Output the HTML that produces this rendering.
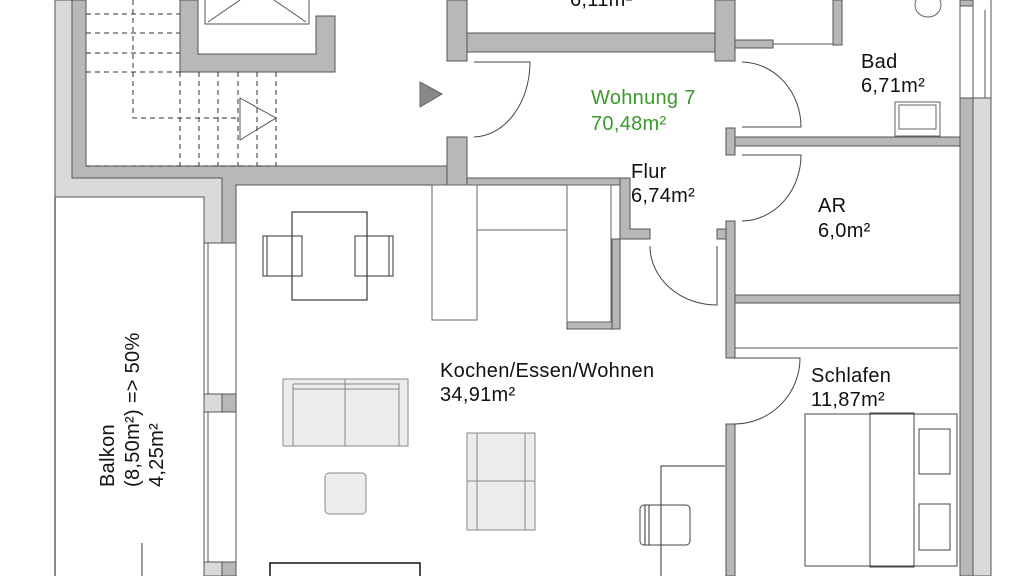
<!DOCTYPE html>
<html><head><meta charset="utf-8"><style>
html,body{margin:0;padding:0;background:#fff;}
svg{display:block}
text{font-family:"Liberation Sans",sans-serif;font-size:20px;letter-spacing:0.3px;fill:#111}
</style></head><body>
<svg width="1024" height="576" viewBox="0 0 1024 576" xmlns="http://www.w3.org/2000/svg">
<g stroke="#555" stroke-width="1">
<path d="M55,0 L72,0 L72,178 L222,178 L222,243 L204,243 L204,197 L55,197 Z" fill="#dadada"/>
<path d="M72,0 L86,0 L86,166 L467,166 L467,185 L236,185 L236,243 L222,243 L222,178 L72,178 Z" fill="#b8b8b8"/>
<path d="M180,0 L198,0 L198,54 L316,54 L316,16 L335,16 L335,72 L180,72 Z" fill="#b8b8b8"/>
<path d="M205,0 L205,24 L309,24 L309,0" fill="none"/>
<path d="M208,22 L240,0 M306,22 L274,0" fill="none"/>
<rect x="447" y="0" width="20" height="61" fill="#b8b8b8"/>
<rect x="447" y="137" width="20" height="48" fill="#b8b8b8"/>
<rect x="467" y="33" width="248" height="19" fill="#b8b8b8"/>
<rect x="715" y="0" width="20" height="61" fill="#b8b8b8"/>
<rect x="735" y="40" width="38" height="8" fill="#b8b8b8"/>
<line x1="773" y1="44" x2="833" y2="44"/>
<rect x="833" y="0" width="9" height="45" fill="#b8b8b8"/>
<rect x="960" y="0" width="13" height="6" fill="#b8b8b8"/>
<rect x="960" y="98" width="13" height="478" fill="#b8b8b8"/>
<rect x="973" y="98" width="18" height="478" fill="#dadada"/>
<path d="M960,6 L960,98 M973,0 L973,98 M985,10 L985,98 M991,0 L991,98" fill="none"/>
<rect x="726" y="128" width="9" height="27" fill="#b8b8b8"/>
<rect x="735" y="137" width="225" height="9" fill="#b8b8b8"/>
<rect x="726" y="221" width="9" height="137" fill="#b8b8b8"/>
<rect x="717" y="229" width="9" height="10" fill="#b8b8b8"/>
<rect x="735" y="295" width="225" height="8" fill="#b8b8b8"/>
<line x1="735" y1="348" x2="958" y2="348"/>
<rect x="726" y="424" width="9" height="152" fill="#b8b8b8"/>
<rect x="467" y="178" width="153" height="7" fill="#b8b8b8"/>
<path d="M620,178 L630,178 L630,229 L650,229 L650,239 L620,239 Z" fill="#b8b8b8"/>
<rect x="567" y="322" width="53" height="7" fill="#b8b8b8"/>
<rect x="612" y="239" width="8" height="90" fill="#b8b8b8"/>
</g>
<g fill="none" stroke="#333" stroke-width="1">
<g stroke-dasharray="5,4">
<path d="M86,14 H180 M86,33 H180 M86,53 H180 M86,72 H180 M133,0 V118 H240 M180,72 V166 M199,72 V166 M218,72 V166 M238,72 V166 M257,72 V166 M276,72 V166 M86,166 H276"/>
</g>
<path d="M240,98 L276,118 L240,140 Z" stroke="#555"/>
<path d="M474,62 L530,62 A57,75 0 0 1 474,137" stroke="#444"/>
<path d="M742,62 A60,65 0 0 1 801,127 L742,127" stroke="#444"/>
<path d="M742,155 L801,155 A60,66 0 0 1 742,221" stroke="#444"/>
<path d="M650,246 A67,59 0 0 0 717,305 L717,246" stroke="#444"/>
<path d="M734,358 L800,358 A66,66 0 0 1 734,424" stroke="#444"/>
<rect x="432" y="185" width="45" height="135" stroke="#666"/>
<path d="M477,230 H567" stroke="#666"/>
<rect x="567" y="185" width="44" height="137" stroke="#666"/>
<rect x="292" y="212" width="75" height="88" stroke="#111"/>
<rect x="263" y="236" width="39" height="40"/><line x1="267" y1="236" x2="267" y2="276"/>
<rect x="355" y="236" width="38" height="40"/><line x1="389" y1="236" x2="389" y2="276"/>
<path d="M204,243 V576 M208,243 V576 M236,243 V576" stroke="#555"/>
<path d="M55,197 V576" stroke="#888" stroke-width="2"/>
<path d="M142,543 V576"/>
<rect x="270" y="563" width="150" height="20" stroke="#111" stroke-width="1.5"/>
<path d="M661,576 V466 H725"/>
<rect x="640" y="505" width="50" height="40" rx="4" stroke="#444"/>
<path d="M645,505 V545 M649,505 V545"/>
<rect x="805" y="414" width="152" height="152" stroke="#444"/>
<rect x="870" y="413" width="44" height="154" stroke="#444"/>
<rect x="919" y="429" width="31" height="45" stroke="#444"/>
<rect x="919" y="504" width="31" height="46" stroke="#444"/>
<ellipse cx="928" cy="5" rx="13" ry="12" stroke="#666"/>
<rect x="895" y="102" width="45" height="34" stroke="#666"/>
<rect x="899" y="105" width="37" height="24" stroke="#666"/>
</g>
<g stroke="#888" fill="#ececec">
<rect x="283" y="379" width="125" height="67"/>
<path d="M293,384 H399 V446 M293,384 V446 M293,389 H399 M345,379 V446" fill="none"/>
<rect x="325" y="473" width="41" height="41" rx="4"/>
<rect x="467" y="433" width="68" height="97"/>
<path d="M477,433 V530 M467,481 H535 M525,433 V530" fill="none"/>
</g>
<rect x="204" y="394" width="18" height="18" fill="#dadada" stroke="#555"/>
<rect x="222" y="394" width="14" height="18" fill="#b8b8b8" stroke="#555"/>
<rect x="204" y="562" width="18" height="14" fill="#dadada" stroke="#555"/>
<rect x="222" y="562" width="14" height="14" fill="#b8b8b8" stroke="#555"/>
<path d="M420,82 L442,94 L420,107 Z" fill="#888" stroke="#666"/>
<text x="570" y="6">6,11m²</text>
<text x="591" y="104" style="fill:#3a9a2a">Wohnung 7</text>
<text x="591" y="130" style="fill:#3a9a2a">70,48m²</text>
<text x="861" y="68">Bad</text>
<text x="861" y="92">6,71m²</text>
<text x="631" y="178">Flur</text>
<text x="631" y="202">6,74m²</text>
<text x="818" y="212">AR</text>
<text x="818" y="237">6,0m²</text>
<text x="440" y="377">Kochen/Essen/Wohnen</text>
<text x="440" y="401">34,91m²</text>
<text x="811" y="382">Schlafen</text>
<text x="811" y="406">11,87m²</text>
<text transform="translate(114,487) rotate(-90)">Balkon</text>
<text transform="translate(139,487) rotate(-90)">(8,50m²) =&gt; 50%</text>
<text transform="translate(163,487) rotate(-90)">4,25m²</text>
</svg>
</body></html>
